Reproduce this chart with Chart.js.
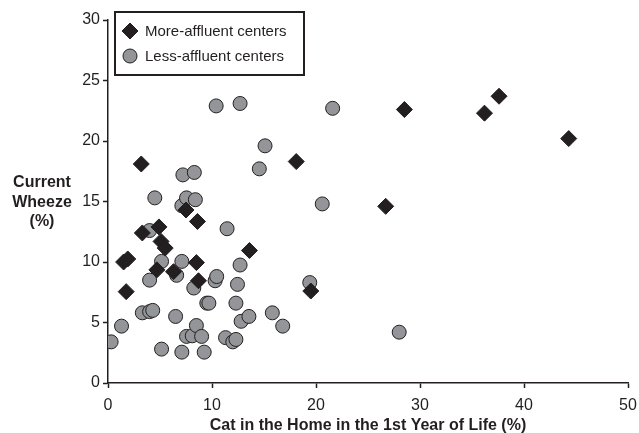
<!DOCTYPE html>
<html><head><meta charset="utf-8">
<script src="https://cdn.jsdelivr.net/npm/chart.js@4"></script>
<style>html,body{margin:0;padding:0;background:#fff}#wrap{width:639px;height:433px}</style>
</head><body><div id="wrap"><canvas id="c" width="639" height="433"></canvas></div>
<script>
// ---- data ----
const seriesLabels = ['More-affluent centers', 'Less-affluent centers'];
const moreAffluentX = [1.5, 1.9, 1.75, 3.2, 3.3, 4.7, 4.9, 5.1, 5.5, 6.3, 7.5, 8.5, 8.6, 8.7, 13.6, 18.1, 19.5, 26.7, 28.5, 36.2, 37.6, 44.3];
const moreAffluentY = [10.0, 10.25, 7.55, 18.1, 12.4, 9.35, 12.9, 11.7, 11.15, 9.2, 14.3, 9.95, 13.35, 8.45, 10.95, 18.3, 7.6, 14.6, 22.6, 22.3, 23.7, 20.2];
const lessAffluentX = [0.3, 1.3, 3.3, 4.0, 4.3, 4.0, 4.0, 4.5, 5.15, 5.15, 6.5, 6.6, 7.1, 7.1, 7.1, 7.2, 7.55, 7.55, 8.1, 8.25, 8.3, 8.4, 8.5, 9.0, 9.25, 9.5, 9.7, 10.3, 10.45, 10.4, 11.3, 11.45, 12.0, 12.3, 12.3, 12.45, 12.7, 12.7, 12.8, 13.55, 14.55, 15.1, 15.8, 16.8, 19.4, 20.6, 21.6, 28.0];
const lessAffluentY = [3.4, 4.7, 5.8, 5.9, 6.0, 8.5, 12.6, 15.3, 10.05, 2.8, 5.5, 8.9, 14.65, 10.05, 2.55, 17.2, 15.3, 3.85, 3.9, 7.85, 17.4, 15.15, 4.75, 3.85, 2.55, 6.6, 6.6, 8.45, 8.8, 22.9, 3.75, 12.75, 3.4, 3.6, 6.6, 8.15, 9.75, 23.1, 5.1, 5.5, 17.7, 19.6, 5.8, 4.7, 8.3, 14.8, 22.7, 4.2];
const xTickValues = [0, 10, 20, 30, 40, 50];
const yTickValues = [0, 5, 10, 15, 20, 25, 30];
const xTitle = 'Cat in the Home in the 1st Year of Life (%)';
const yTitleLines = ['Current', 'Wheeze', '(%)'];

const INK = '#231f20';
const GREY = '#939598';
const FONT = "'Liberation Sans', Arial, Helvetica, sans-serif";

const toPoints = (xs, ys) => xs.map((x, i) => ({x: x, y: ys[i]}));

const customDecor = {
  id: 'customDecor',
  afterDraw(chart) {
    const ctx = chart.ctx;
    ctx.save();
    // y-axis title, horizontal, three lines
    ctx.fillStyle = INK;
    ctx.font = 'bold 16px ' + FONT;
    ctx.textAlign = 'center';
    ctx.textBaseline = 'middle';
    const yTitleCenters = [183, 202.5, 222];
    yTitleLines.forEach((t, i) => ctx.fillText(t, 42, yTitleCenters[i]));
    // legend box
    ctx.lineWidth = 2;
    ctx.strokeStyle = INK;
    ctx.fillStyle = '#fff';
    ctx.fillRect(115, 12, 189, 63);
    ctx.strokeRect(115, 12, 189, 63);
    const rows = [31, 56];
    chart.data.datasets.forEach((ds, i) => {
      const opts = {
        pointStyle: ds.pointStyle, radius: ds.pointRadius, rotation: 0,
        borderWidth: ds.borderWidth
      };
      ctx.fillStyle = ds.backgroundColor;
      ctx.strokeStyle = ds.borderColor;
      ctx.lineWidth = ds.borderWidth;
      Chart.helpers.drawPoint(ctx, opts, 130, rows[i]);
      ctx.fillStyle = INK;
      ctx.font = '15px ' + FONT;
      ctx.textAlign = 'left';
      ctx.textBaseline = 'middle';
      ctx.fillText(ds.label, 145, rows[i] + 1);
    });
    ctx.restore();
  }
};

const axisCommon = {
  type: 'linear',
  grid: {display: true, drawOnChartArea: false, drawTicks: true, tickLength: 5, tickColor: INK, tickWidth: 1.5},
  border: {display: true, color: INK, width: 1.5},
};

new Chart(document.getElementById('c'), {
  type: 'scatter',
  data: {
    datasets: [
      {label: seriesLabels[0], data: toPoints(moreAffluentX, moreAffluentY), pointStyle: 'rectRot', pointRadius: 8, borderWidth: 1, backgroundColor: INK, borderColor: INK},
      {label: seriesLabels[1], data: toPoints(lessAffluentX, lessAffluentY), pointStyle: 'circle', pointRadius: 7, borderWidth: 1, backgroundColor: GREY, borderColor: INK}
    ]
  },
  options: {
    responsive: false, animation: false, devicePixelRatio: 1,
    layout: {padding: {left: 0, right: 11, top: 20, bottom: 0}},
    plugins: {legend: {display: false}, tooltip: {enabled: false}},
    scales: {
      x: Object.assign({}, axisCommon, {
        min: 0, max: 50,
        afterBuildTicks: s => { s.ticks = xTickValues.map(v => ({value: v})); },
        ticks: {color: INK, font: {family: FONT, size: 16}, padding: 8, maxRotation: 0},
        title: {display: true, text: xTitle, color: INK, font: {family: FONT, size: 16, weight: 'bold'}, padding: {top: 2, bottom: -2}},
        afterFit: s => { s.height = 50; s.paddingLeft = 0; s.paddingRight = 0; }
      }),
      y: Object.assign({}, axisCommon, {
        min: 0, max: 30,
        afterBuildTicks: s => { s.ticks = yTickValues.map(v => ({value: v})); },
        ticks: {color: INK, font: {family: FONT, size: 16}, padding: 3},
        afterFit: s => { s.width = 108; s.paddingTop = 0; s.paddingBottom = 0; }
      })
    }
  },
  plugins: [customDecor]
});
</script></body></html>
